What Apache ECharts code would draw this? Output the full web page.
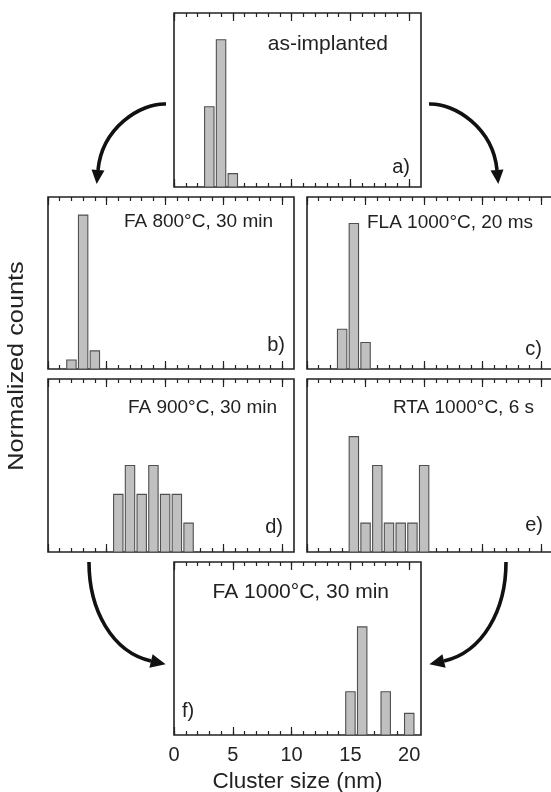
<!DOCTYPE html>
<html>
<head>
<meta charset="utf-8">
<script src="https://cdn.jsdelivr.net/npm/echarts@6/dist/echarts.min.js"></script>
<style>
  html, body { margin: 0; padding: 0; background: #ffffff; }
  #chart { width: 551px; height: 792px; }
</style>
</head>
<body>
<div id="chart"></div>
<script>
// Cluster size histograms (bin centre in nm, counts) for each annealing step
const sizesA = [3, 4, 5];
const countsA = [6, 11, 1];
const sizesB = [2, 3, 4];
const countsB = [1, 17, 2];
const sizesC = [3, 4, 5];
const countsC = [3, 11, 2];
const sizesD = [6, 7, 8, 9, 10, 11, 12];
const countsD = [2, 3, 2, 3, 2, 2, 1];
const sizesE = [4, 5, 6, 7, 8, 9, 10];
const countsE = [4, 1, 3, 1, 1, 1, 3];
const sizesF = [15, 16, 18, 20];
const countsF = [2, 5, 2, 1];

const panelTitles = ['as-implanted', 'FA 800°C, 30 min', 'FLA 1000°C, 20 ms',
                     'FA 900°C, 30 min', 'RTA 1000°C, 6 s', 'FA 1000°C, 30 min'];
const panelTags = ['a)', 'b)', 'c)', 'd)', 'e)', 'f)'];
const minorTickValues = [0, 1, 2, 3, 4, 5, 6, 7, 8, 9, 10, 11, 12, 13, 14, 15, 16, 17, 18, 19, 20];
const majorTickValues = [0, 5, 10, 15, 20];
const xAxisTitle = 'Cluster size (nm)';
const yAxisTitle = 'Normalized counts';

const FONT = '"Liberation Sans", Arial, Helvetica, sans-serif';
const INK = '#222222';
const BIN_WIDTH = 0.8;   // drawn bar width in nm

// Layout of the six framed panels
const panels = [
  { sizes: sizesA, counts: countsA, left: 174, top: 13,  width: 247, height: 174, xMax: 21, yMax: 13,
    title: { x: 388, y: 44, size: 21 }, tag: { x: 410, y: 167, align: 'right' } },
  { sizes: sizesB, counts: countsB, left: 48,  top: 197, width: 246, height: 172, xMax: 21, yMax: 19,
    title: { x: 273, y: 222, size: 19 }, tag: { x: 285, y: 345, align: 'right' } },
  { sizes: sizesC, counts: countsC, left: 307, top: 197, width: 246, height: 172, xMax: 21, yMax: 13,
    title: { x: 533, y: 223, size: 19 }, tag: { x: 542, y: 349, align: 'right' } },
  { sizes: sizesD, counts: countsD, left: 48,  top: 379, width: 246, height: 173, xMax: 21, yMax: 6,
    title: { x: 277, y: 408, size: 19 }, tag: { x: 283, y: 527, align: 'right' } },
  { sizes: sizesE, counts: countsE, left: 307, top: 379, width: 246, height: 173, xMax: 21, yMax: 6,
    title: { x: 534, y: 408, size: 19 }, tag: { x: 543, y: 525, align: 'right' } },
  { sizes: sizesF, counts: countsF, left: 174, top: 562, width: 247, height: 173, xMax: 21, yMax: 8,
    title: { x: 389, y: 592, size: 21 }, tag: { x: 182, y: 711, align: 'left' } }
];

const grids = [], xAxes = [], yAxes = [], series = [], graphics = [];

panels.forEach((p, i) => {
  const isBottom = i === panels.length - 1;
  grids.push({
    left: p.left, top: p.top, width: p.width, height: p.height,
    containLabel: false, outerBoundsMode: 'none',
    show: true, borderColor: INK, borderWidth: 1.6, backgroundColor: 'transparent'
  });

  const baseAxis = (position, length, values, interval) => ({
    type: 'value', gridIndex: i, position: position,
    min: 0, max: p.xMax, interval: interval,
    axisLine: { show: false },
    splitLine: { show: false },
    axisTick: { show: true, inside: true, length: length, customValues: values,
                lineStyle: { color: INK, width: 1.2 } },
    axisLabel: { show: false }
  });

  const bottomMajor = baseAxis('bottom', 8, majorTickValues, 5);
  if (isBottom) {
    bottomMajor.axisLabel = {
      show: true, customValues: majorTickValues, margin: 10,
      color: INK, fontFamily: FONT, fontSize: 20,
      formatter: v => (v % 5 === 0 ? String(v) : '')
    };
    bottomMajor.name = xAxisTitle;
    bottomMajor.nameLocation = 'middle';
    bottomMajor.nameGap = 35;
    bottomMajor.nameTextStyle = { color: INK, fontFamily: FONT, fontSize: 22.5 };
  }
  xAxes.push(baseAxis('bottom', 4, minorTickValues, 1));
  xAxes.push(bottomMajor);
  xAxes.push(baseAxis('top', 4, minorTickValues, 1));
  xAxes.push(baseAxis('top', 8, majorTickValues, 5));

  yAxes.push({ type: 'value', gridIndex: i, min: 0, max: p.yMax, show: false, splitLine: { show: false } });

  series.push({
    type: 'custom',
    xAxisIndex: i * 4, yAxisIndex: i,
    data: p.sizes.map((s, k) => [s, p.counts[k]]),
    renderItem: (params, api) => {
      const x = api.value(0), y = api.value(1);
      const topLeft = api.coord([x - BIN_WIDTH / 2, y]);
      const bottomRight = api.coord([x + BIN_WIDTH / 2, 0]);
      return {
        type: 'rect',
        shape: { x: topLeft[0], y: topLeft[1],
                 width: bottomRight[0] - topLeft[0], height: bottomRight[1] - topLeft[1] },
        style: { fill: '#c0c0c0', stroke: '#505050', lineWidth: 1.1 }
      };
    },
    z: 1
  });

  graphics.push({
    type: 'text', x: p.title.x, y: p.title.y, z: 10,
    style: { text: panelTitles[i], fill: INK, font: p.title.size + 'px ' + FONT,
             textAlign: 'right', textVerticalAlign: 'middle' }
  });
  graphics.push({
    type: 'text', x: p.tag.x, y: p.tag.y, z: 10,
    style: { text: panelTags[i], fill: INK, font: '20px ' + FONT,
             textAlign: p.tag.align, textVerticalAlign: 'middle' }
  });
});

// Shared y-axis title, read bottom to top
graphics.push({
  type: 'text', x: 17, y: 366, rotation: Math.PI / 2, scaleX: 1.15, z: 10,
  style: { text: yAxisTitle, fill: INK, font: '22px ' + FONT,
           textAlign: 'center', textVerticalAlign: 'middle' }
});

// Curved process arrows between panels
function arrow(p0, c1, c2, p3, headLen, headHalf) {
  const dx = p3[0] - c2[0], dy = p3[1] - c2[1];
  const len = Math.hypot(dx, dy);
  const ux = dx / len, uy = dy / len;
  const tip = [p3[0] + ux * headLen, p3[1] + uy * headLen];
  const b1 = [p3[0] - uy * headHalf, p3[1] + ux * headHalf];
  const b2 = [p3[0] + uy * headHalf, p3[1] - ux * headHalf];
  return [
    { type: 'bezierCurve', z: 5,
      shape: { x1: p0[0], y1: p0[1], cpx1: c1[0], cpy1: c1[1], cpx2: c2[0], cpy2: c2[1], x2: p3[0], y2: p3[1] },
      style: { stroke: '#111111', lineWidth: 3.6, fill: null } },
    { type: 'polygon', z: 5, shape: { points: [tip, b1, b2] }, style: { fill: '#111111' } }
  ];
}
graphics.push(...arrow([166, 104], [140, 103], [102, 128], [98, 170], 14, 6.5));
graphics.push(...arrow([429, 104], [455, 103], [493, 128], [497, 170], 14, 6.5));
graphics.push(...arrow([89, 562], [89, 610], [112, 652], [151, 661], 15, 7));
graphics.push(...arrow([506, 562], [506, 610], [483, 652], [444, 661], 15, 7));

const chart = echarts.init(document.getElementById('chart'), null, { renderer: 'canvas' });
chart.setOption({
  backgroundColor: '#ffffff',
  animation: false,
  grid: grids,
  xAxis: xAxes,
  yAxis: yAxes,
  series: series,
  graphic: graphics
});
</script>
</body>
</html>
